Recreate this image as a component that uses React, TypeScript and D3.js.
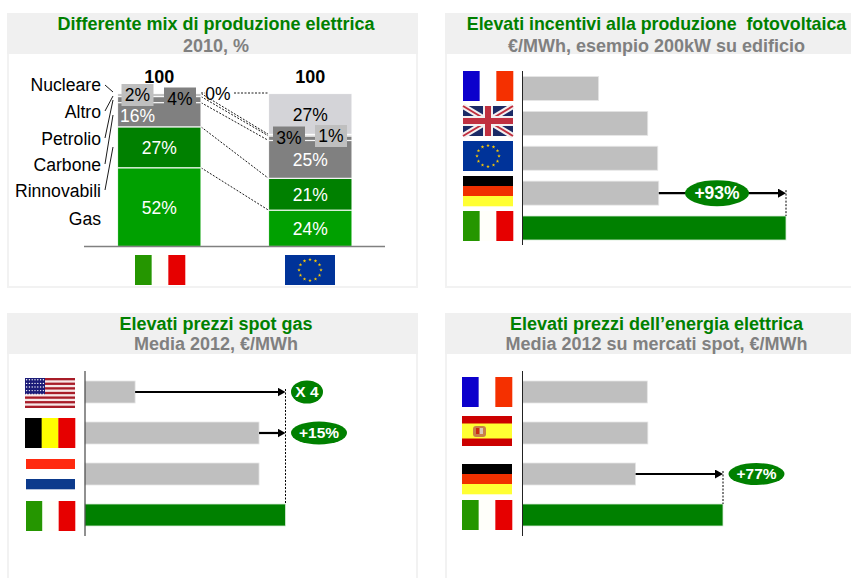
import React from 'react';
import * as d3 from 'd3';

const width = 851;
const height = 578;

// stacked chart data, bottom to top
const mixKeys = ['Gas', 'Rinnovabili', 'Carbone', 'Petrolio', 'Altro', 'Nucleare'];
const mixItaly = [52, 27, 16, 4, 2, 0];
const mixEurope = [24, 21, 25, 3, 1, 27];
const mixCountries = ['IT', 'EU'];
const mixTotals = [100, 100];
const mixLegend = ['Nucleare', 'Altro', 'Petrolio', 'Carbone', 'Rinnovabili', 'Gas'];

// bar panels
const pvCountries = ['FR', 'UK', 'EU', 'DE', 'IT'];
const pvValues = [76, 125, 135, 136, 263];
const gasCountries = ['US', 'BE', 'NL', 'IT'];
const gasValues = [7.2, 25, 25, 28.8];
const powerCountries = ['FR', 'ES', 'DE', 'IT'];
const powerValues = [47, 47.2, 42.6, 75.5];

const GREEN = '#008000';
const GREY = '#bfbfbf';
const font = '"Liberation Sans", Arial, sans-serif';

const segColors = ['#00a000', '#008000', '#808080', '#808080', '#bfbfbf', '#d4d4d8'];

const euStar = d3.symbol().type(d3.symbolStar).size(4)();

const Flag = ({ code, x, y, w = 50, h = 30 }: any) => {
  const stripesV = (cols: string[]) =>
    cols.map((c, i) => <rect key={i} x={x + (i * w) / 3} y={y} width={w / 3 + 0.3} height={h} fill={c} />);
  const stripesH = (cols: string[]) =>
    cols.map((c, i) => <rect key={i} x={x} y={y + (i * h) / 3} width={w} height={h / 3 + 0.3} fill={c} />);
  if (code === 'FR') return <g>{stripesV(['#0c00cc', '#ffffff', '#f53000'])}</g>;
  if (code === 'IT') return <g>{stripesV(['#259600', '#fffffa', '#e60000'])}</g>;
  if (code === 'BE') return <g>{stripesV(['#000000', '#ffff00', '#e60000'])}</g>;
  if (code === 'DE') return <g>{stripesH(['#000000', '#f03000', '#ffff33'])}</g>;
  if (code === 'NL') return <g>{stripesH(['#ff2a10', '#ffffff', '#0c3a8c'])}</g>;
  if (code === 'ES')
    return (
      <g>
        <rect x={x} y={y} width={w} height={h} fill="#cc0000" />
        <rect x={x} y={y + h / 4} width={w} height={h / 2} fill="#ffff33" />
        <rect x={x + 11} y={y + 10} width={13} height={11} fill="#c8804a" rx={3} />
        <rect x={x + 14} y={y + 12} width={3} height={6} fill="#cc2a10" />
        <rect x={x + 18} y={y + 12} width={3} height={6} fill="#d8c8b8" />
      </g>
    );
  if (code === 'EU') {
    const ring = d3.range(12).map((i) => (i * Math.PI * 2) / 12);
    return (
      <g>
        <rect x={x} y={y} width={w} height={h} fill="#003399" />
        {ring.map((a, i) => (
          <path
            key={i}
            d={euStar || ''}
            fill="#ffcc00"
            transform={`translate(${x + w / 2 + 11 * Math.sin(a)},${y + h / 2 - 10.5 * Math.cos(a)})`}
          />
        ))}
      </g>
    );
  }
  if (code === 'UK') {
    const d1 = `M${x},${y}L${x + w},${y + h}M${x + w},${y}L${x},${y + h}`;
    return (
      <g>
        <rect x={x} y={y} width={w} height={h} fill="#1b2a66" />
        <path d={d1} stroke="#f4f0f0" strokeWidth={6} />
        <path d={d1} stroke="#c03040" strokeWidth={2} />
        <rect x={x + w / 2 - 5} y={y} width={10} height={h} fill="#f4f0f0" />
        <rect x={x} y={y + h / 2 - 5} width={w} height={10} fill="#f4f0f0" />
        <rect x={x + w / 2 - 3} y={y} width={6} height={h} fill="#c03040" />
        <rect x={x} y={y + h / 2 - 3} width={w} height={6} fill="#c03040" />
      </g>
    );
  }
  // US
  const sh = h / 13;
  const cantonW = 20;
  const cantonH = sh * 7;
  const dots: React.ReactNode[] = [];
  d3.range(5).forEach((r) =>
    d3.range(7).forEach((c) =>
      dots.push(
        <circle key={`${r}-${c}`} cx={x + 1.6 + c * 2.8} cy={y + 1.8 + r * 3.6} r={0.7} fill="#ffffff" />
      )
    )
  );
  return (
    <g>
      <rect x={x} y={y} width={w} height={h} fill="#f6e8e8" />
      {d3.range(0, 13, 2).map((i) => (
        <rect key={i} x={x} y={y + i * sh} width={w} height={sh} fill="#a81c28" />
      ))}
      <rect x={x} y={y} width={cantonW} height={cantonH} fill="#1c1c78" />
      {dots}
    </g>
  );
};

const Panel = ({ x, y, w, h, title, subtitle, cx, subY, titleSize = 18 }: any) => (
  <g>
    <rect x={x} y={y} width={w} height={h} fill="#ffffff" stroke="#f2f2f2" strokeWidth={2} />
    <rect x={x - 1} y={y - 1} width={w + 2} height={41} fill="#f0f0f0" />
    <text
      x={cx}
      y={y + 15.5}
      textAnchor="middle"
      fontSize={titleSize}
      fontWeight="bold"
      fill={GREEN}
      style={{ whiteSpace: 'pre' }}
    >
      {title}
    </text>
    <text x={cx} y={y + subY} textAnchor="middle" fontSize={18} fontWeight="bold" fill="#808080">
      {subtitle}
    </text>
  </g>
);

const Badge = ({ cx, cy, rx, ry, label, size = 15.5 }: any) => (
  <g>
    <ellipse cx={cx} cy={cy} rx={rx} ry={ry} fill={GREEN} />
    <text x={cx} y={cy + size * 0.35} textAnchor="middle" fontSize={size} fontWeight="bold" fill="#ffffff">
      {label}
    </text>
  </g>
);

// one horizontal bar panel
const BarPanel = ({ countries, values, flagTops, flagX, flagW, axisX, xMax, rows, barH, axisTop, axisBottom, arrows }: any) => {
  const x = d3.scaleLinear().domain([0, d3.max(values as number[]) as number]).range([axisX, xMax]);
  const y = d3.scalePoint<string>().domain(countries).range(rows);
  const last = countries[countries.length - 1];
  const topArrow = Math.min(...arrows.map((a: any) => y(a.country) as number));
  return (
    <g>
      {countries.map((c: string, i: number) => (
        <Flag key={c} code={c} x={flagX[i] ?? flagX[0]} y={flagTops[i]} w={flagW ? flagW[i] : 50} />
      ))}
      {countries.map((c: string, i: number) => (
        <rect
          key={c}
          x={axisX}
          y={(y(c) as number) - barH / 2}
          width={x(values[i]) - axisX}
          height={barH}
          fill={c === last ? GREEN : GREY}
          stroke={c === last ? '#d8ead8' : '#e6e6e6'}
          strokeWidth={0.8}
        />
      ))}
      <line x1={axisX} x2={axisX} y1={axisTop} y2={axisBottom} stroke="#222222" strokeWidth={1} />
      <line
        x1={xMax}
        x2={xMax}
        y1={topArrow - 3}
        y2={(y(last) as number) - barH / 2}
        stroke="#000000"
        strokeWidth={1}
        strokeDasharray="2 1.5"
      />
      {arrows.map((a: any) => {
        const yy = y(a.country) as number;
        const v = values[countries.indexOf(a.country)];
        return (
          <g key={a.country}>
            <line x1={x(v)} x2={xMax - 7} y1={yy} y2={yy} stroke="#000000" strokeWidth={2.2} markerEnd="url(#head)" />
            <Badge cx={a.cx} cy={yy} rx={a.rx} ry={a.ry} label={a.label} size={a.size} />
          </g>
        );
      })}
    </g>
  );
};

const MixChart = () => {
  const rows = mixCountries.map((c, i) => {
    const src = i === 0 ? mixItaly : mixEurope;
    const r: any = { country: c };
    mixKeys.forEach((k, j) => (r[k] = src[j]));
    return r;
  });
  const series = d3.stack().keys(mixKeys)(rows);
  // bars land at 117.5-201 and 268.5-352
  const xLeft = (c: string) => (c === 'IT' ? 117.5 : 268.5);
  const barW = 83.5;
  const y = d3.scaleLinear().domain([0, 101]).range([246.5, 93.5]);

  const fixedLabels: any = {
    'IT-Altro': { cx: 137.5, cy: 95, fill: '#bfbfbf' },
    'IT-Petrolio': { cx: 180, cy: 98.5, fill: '#808080' },
    'IT-Nucleare': { cx: 218, cy: 94, fill: 'none' },
    'EU-Petrolio': { cx: 289, cy: 137.5, fill: '#808080' },
    'EU-Altro': { cx: 331, cy: 136, fill: '#bfbfbf' },
  };

  const legendY = [85, 112, 139, 165, 191, 219];
  const leaderEnd = [92, 96, 100, 115, 147];

  return (
    <g>
      {/* connectors between the stacks */}
      {series.slice(0, 5).map((s) => (
        <line
          key={s.key}
          x1={201}
          x2={268.5}
          y1={y(s[0][1])}
          y2={y(s[1][1])}
          stroke="#000000"
          strokeWidth={0.9}
          strokeDasharray="2 1.5"
        />
      ))}
      <line x1={201} x2={205} y1={93} y2={93} stroke="#000" strokeWidth={0.9} strokeDasharray="2 1.5" />
      <line x1={234} x2={268.5} y1={93} y2={93} stroke="#000" strokeWidth={0.9} strokeDasharray="2 1.5" />

      {series.map((s, si) =>
        s.map((d: any, i: number) => {
          const c = mixCountries[i];
          if (d[1] - d[0] === 0) return null;
          return (
            <rect
              key={`${s.key}-${c}`}
              x={xLeft(c)}
              y={y(d[1])}
              width={barW}
              height={y(d[0]) - y(d[1])}
              fill={segColors[si]}
              stroke="#ffffff"
              strokeOpacity={0.85}
              strokeWidth={1.2}
            />
          );
        })
      )}

      {series.map((s, si) =>
        s.map((d: any, i: number) => {
          const c = mixCountries[i];
          const value = d[1] - d[0];
          const fx = fixedLabels[`${c}-${s.key}`];
          const cx = fx ? fx.cx : xLeft(c) + barW / 2;
          const cy = fx ? fx.cy : (y(d[0]) + y(d[1])) / 2 + 1;
          const dark = s.key === 'Nucleare' || !!fx;
          const labelX = c === 'IT' && s.key === 'Carbone' ? 137.5 : cx;
          return (
            <g key={`l-${s.key}-${c}`}>
              {fx && fx.fill !== 'none' && <rect x={cx - 16} y={cy - 11} width={32} height={22} fill={fx.fill} />}
              <text x={labelX} y={cy + 6} textAnchor="middle" fontSize={17.5} fill={dark ? '#000000' : '#ffffff'}>
                {value}%
              </text>
            </g>
          );
        })
      )}

      {mixCountries.map((c, i) => (
        <text key={c} x={xLeft(c) + barW / 2} y={83} textAnchor="middle" fontSize={18} fontWeight="bold" fill="#000">
          {mixTotals[i]}
        </text>
      ))}

      <line x1={84} x2={385} y1={246.5} y2={246.5} stroke="#808080" strokeWidth={1.6} />

      {mixLegend.map((l, i) => (
        <text key={l} x={101} y={legendY[i] + 6} textAnchor="end" fontSize={17.6} fill="#000">
          {l}
        </text>
      ))}
      {leaderEnd.map((e, i) => (
        <line key={i} x1={105} x2={113} y1={legendY[i] + (i === 0 ? 0 : -1)} y2={e} stroke="#000" strokeWidth={0.9} />
      ))}

      <Flag code="IT" x={135} y={255} />
      <Flag code="EU" x={285} y={255} />
    </g>
  );
};

export default function App() {
  return (
    <svg
      width={width}
      height={height}
      viewBox={`0 0 ${width} ${height}`}
      style={{ position: 'absolute', left: 0, top: 0, display: 'block' }}
      fontFamily={font}
    >
      <defs>
        <marker id="head" markerUnits="userSpaceOnUse" markerWidth={8} markerHeight={9} refX={1} refY={4.5} orient="auto">
          <path d="M0,0L8,4.5L0,9Z" fill="#000000" />
        </marker>
      </defs>
      <rect width={width} height={height} fill="#ffffff" />

      <Panel x={8} y={14} w={409} h={273} cx={216} subY={37.5} title="Differente mix di produzione elettrica" subtitle="2010, %" />
      <Panel x={446} y={14} w={420} h={273} cx={656.5} subY={37.5} titleSize={17.8} title="Elevati incentivi alla produzione  fotovoltaica" subtitle="€/MWh, esempio 200kW su edificio" />
      <Panel x={8} y={314} w={409} h={290} cx={216} subY={36} title="Elevati prezzi spot gas" subtitle="Media 2012, €/MWh" />
      <Panel x={446} y={314} w={420} h={290} cx={656.5} subY={36} title="Elevati prezzi dell’energia elettrica" subtitle="Media 2012 su mercati spot, €/MWh" />

      <MixChart />

      <BarPanel
        countries={pvCountries}
        values={pvValues}
        flagX={[463]}
        flagTops={[71, 106, 141, 176, 211]}
        axisX={522.5}
        xMax={786}
        rows={[88.5, 228]}
        barH={24}
        axisTop={71}
        axisBottom={245}
        arrows={[{ country: 'DE', cx: 717, rx: 32, ry: 13, label: '+93%', size: 17.5 }]}
      />
      <BarPanel
        countries={gasCountries}
        values={gasValues}
        flagX={[25, 25, 26, 26]}
        flagW={[50, 50, 49, 49]}
        flagTops={[378, 418, 459, 501]}
        axisX={85}
        xMax={285.5}
        rows={[392, 515]}
        barH={22}
        axisTop={371}
        axisBottom={536}
        arrows={[
          { country: 'US', cx: 307, rx: 16, ry: 11.5, label: 'X 4' },
          { country: 'BE', cx: 319, rx: 28, ry: 11.5, label: '+15%' },
        ]}
      />
      <BarPanel
        countries={powerCountries}
        values={powerValues}
        flagX={[462]}
        flagTops={[377, 416, 464, 500]}
        axisX={522.5}
        xMax={723}
        rows={[392, 515]}
        barH={22}
        axisTop={371}
        axisBottom={536}
        arrows={[{ country: 'DE', cx: 756.5, rx: 28, ry: 11, label: '+77%' }]}
      />
    </svg>
  );
}
